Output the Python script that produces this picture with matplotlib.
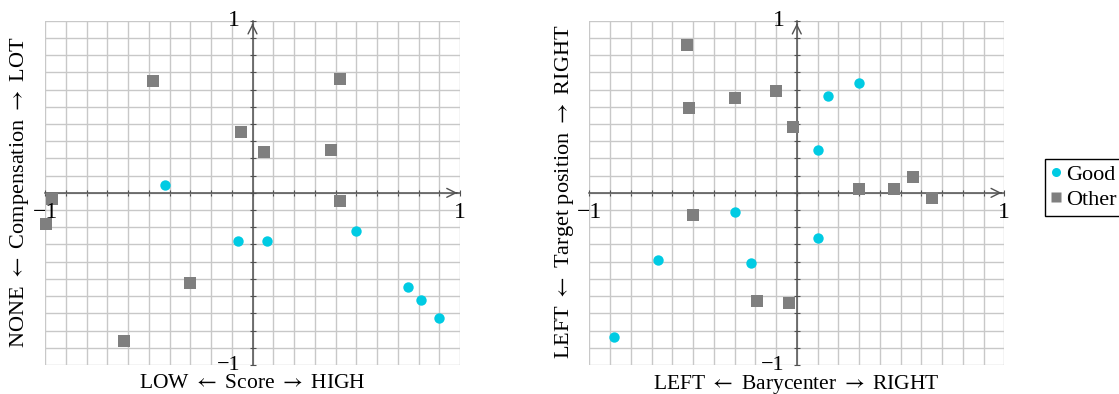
import numpy as np
import matplotlib.pyplot as plt
from matplotlib.lines import Line2D

plt.rcParams['font.family'] = ['Liberation Serif', 'DejaVu Serif']
plt.rcParams['font.size'] = 16
plt.rcParams['mathtext.fontset'] = 'stix'

# Score / Compensation
score_good_x = [-0.42, -0.07, 0.07, 0.50, 0.75, 0.81, 0.90]
score_good_y = [0.045, -0.28, -0.28, -0.22, -0.545, -0.625, -0.725]
score_other_x = [-0.48, 0.42, -0.055, 0.057, 0.38, -0.965, 0.42, -0.997, -0.30, -0.62]
score_other_y = [0.65, 0.66, 0.355, 0.24, 0.25, -0.033, -0.046, -0.18, -0.525, -0.86]

# Barycenter / Target position
bary_good_x = [0.30, 0.15, 0.10, -0.30, 0.10, -0.67, -0.22, -0.88]
bary_good_y = [0.64, 0.56, 0.25, -0.11, -0.26, -0.39, -0.41, -0.84]
bary_other_x = [-0.53, -0.52, -0.30, -0.10, -0.02, 0.30, 0.47, 0.56, 0.65, -0.50, -0.19, -0.04]
bary_other_y = [0.86, 0.49, 0.55, 0.59, 0.38, 0.02, 0.02, 0.09, -0.03, -0.13, -0.63, -0.64]

L = r'$\leftarrow$'
R = r'$\rightarrow$'
panels = [
    (score_good_x, score_good_y, score_other_x, score_other_y,
     f'LOW {L} Score {R} HIGH', f'NONE {L} Compensation {R} LOT'),
    (bary_good_x, bary_good_y, bary_other_x, bary_other_y,
     f'LEFT {L} Barycenter {R} RIGHT', f'LEFT {L} Target position {R} RIGHT'),
]

CYAN = '#00CBE3'
GRAY = '#7f7f7f'
GRID = '#c8c8c8'
AXIS = '#505050'

fig = plt.figure(figsize=(11.19, 3.94), dpi=100)
W, H = 1119, 394
lefts = [45, 589.3]

for (gx, gy, ox, oy, xl, yl), lpx in zip(panels, lefts):
    ax = fig.add_axes([lpx / W, (H - 365) / H, 415 / W, 344.3 / H])
    ax.set_xlim(-1, 1)
    ax.set_ylim(-1, 1)
    ticks = np.round(np.linspace(-1, 1, 21), 2)
    ax.set_xticks(ticks)
    ax.set_yticks(ticks)
    ax.grid(True, color=GRID, lw=1.0)
    for gl in ax.get_xgridlines() + ax.get_ygridlines():
        gl.set_clip_on(False)
    ax.set_axisbelow(True)
    for s in ['top', 'right']:
        ax.spines[s].set_visible(False)
    for s in ['left', 'bottom']:
        ax.spines[s].set_position(('data', 0))
        ax.spines[s].set_color(AXIS)
        ax.spines[s].set_linewidth(1.1)
        ax.spines[s].set_zorder(2.5)
    ax.tick_params(direction='inout', length=5, width=0.8, color=AXIS,
                   labelleft=False, labelbottom=False)
    # arrow heads
    ax.annotate('', xy=(1.0, 0), xytext=(0.97, 0),
                arrowprops=dict(arrowstyle='->', color=AXIS, lw=1.0), annotation_clip=False)
    ax.annotate('', xy=(0, 1.0), xytext=(0, 0.96),
                arrowprops=dict(arrowstyle='->', color=AXIS, lw=1.0), annotation_clip=False)

    ax.scatter(ox, oy, marker='s', s=64, color=GRAY, lw=0, zorder=3, clip_on=False)
    ax.scatter(gx, gy, marker='o', s=56, color=CYAN, lw=0, zorder=3, clip_on=False)

    # tick labels at the ends only
    ax.annotate('1', (0, 1), xytext=(-9, 0), textcoords='offset points',
                ha='right', va='center', fontsize=17)
    ax.annotate('\u22121', (0, -1), xytext=(-9, 0), textcoords='offset points',
                ha='right', va='center', fontsize=16)
    ax.annotate('\u22121', (-1, 0), xytext=(0, -14), textcoords='offset points',
                ha='center', va='center', fontsize=17)
    ax.annotate('1', (1, 0), xytext=(0, -14), textcoords='offset points',
                ha='center', va='center', fontsize=17)

    fig.text((lpx + 207.5) / W, (H - 384) / H, xl, ha='center', va='center', fontsize=15.5)
    fig.text((lpx - 25) / W, (H - 192) / H, yl, rotation=90, ha='center', va='center')

handles = [
    Line2D([], [], ls='none', marker='o', ms=6.5, color=CYAN, mec='none'),
    Line2D([], [], ls='none', marker='s', ms=6.5, color=GRAY, mec='none'),
]
fig.legend(handles, ['Good', 'Other'], loc='upper left',
           bbox_to_anchor=(1045 / W, (H - 159) / H), frameon=True, fancybox=False,
           edgecolor='black', framealpha=1, handlelength=0.5, handletextpad=0.2,
           borderpad=0.25, labelspacing=0.2, borderaxespad=0, fontsize=16)

fig.savefig('out.png', dpi=100)
